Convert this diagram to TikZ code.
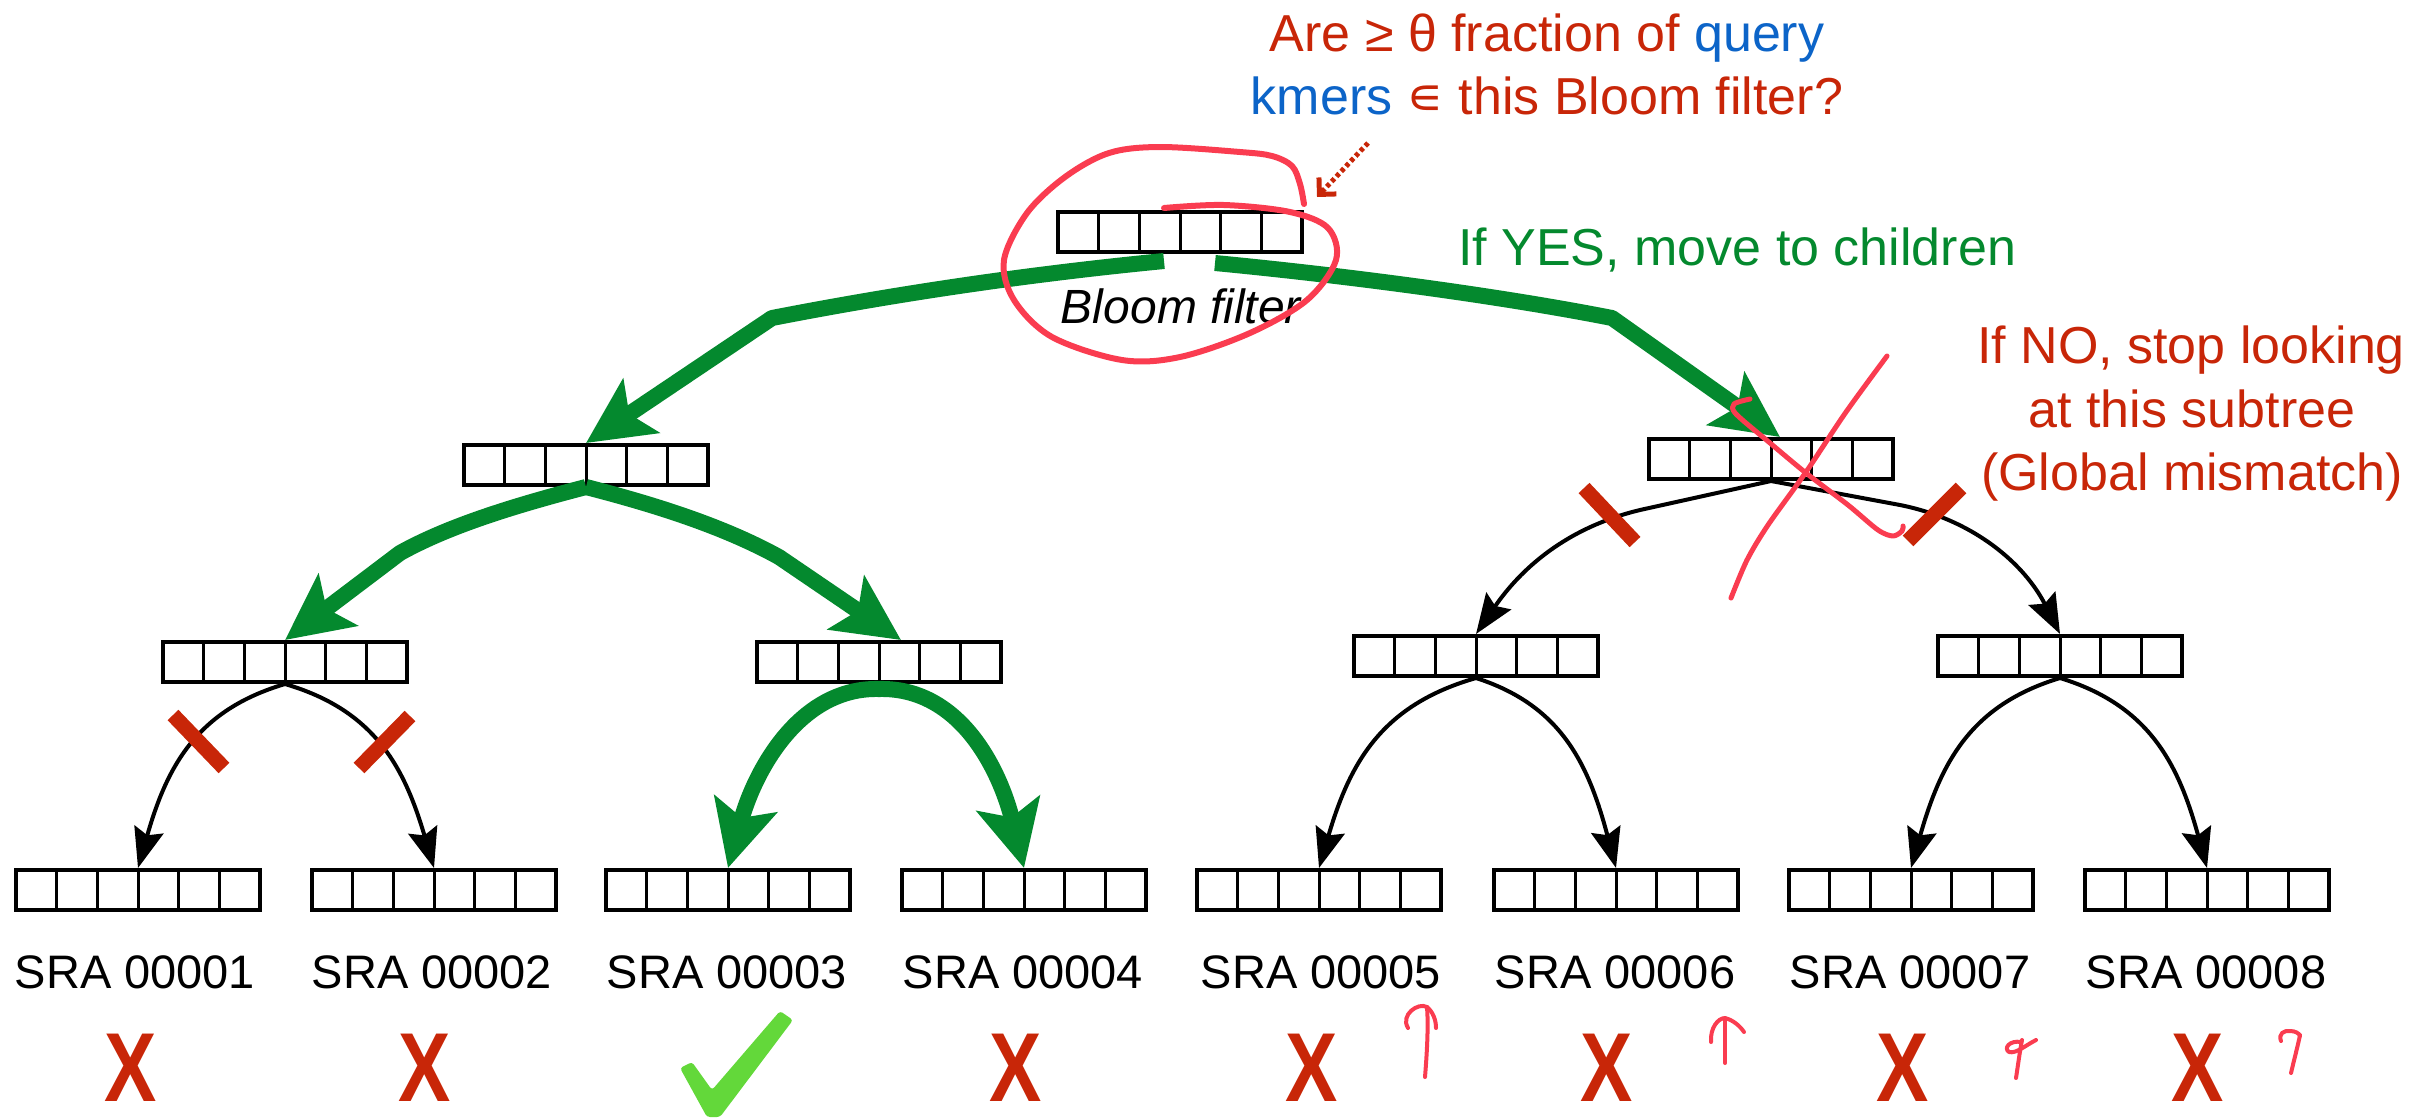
\documentclass[tikz,border=0pt]{standalone}
\usepackage{fontspec}
\usepackage{graphicx}
\setmainfont{Liberation Sans}
\newfontfamily\symfont{DejaVu Sans}
\usetikzlibrary{arrows.meta,calc}
\definecolor{bfred}{RGB}{200,38,8}
\definecolor{bfblue}{RGB}{12,100,200}
\definecolor{bfgreen}{RGB}{4,137,46}
\definecolor{penred}{RGB}{250,60,80}
\definecolor{checkgreen}{RGB}{99,216,58}
\tikzset{
  bfbox/.style={draw, line width=4pt, minimum width=244pt, minimum height=40pt, inner sep=0pt,
    path picture={\foreach \k in {1,...,5}{\draw[line width=3pt]
      ($(path picture bounding box.south west)!\k/6!(path picture bounding box.south east)$) --
      ($(path picture bounding box.north west)!\k/6!(path picture bounding box.north east)$);}}},
  blackedge/.style={line width=4pt, -{Stealth[length=40pt,width=30pt,inset=6pt]}},
  yesedge/.style={bfgreen, line width=16pt, line join=round, -{Stealth[length=66pt,width=64pt,inset=14pt]}},
  cutbar/.style={bfred, line width=15pt},
  pen/.style={penred, line width=6pt, line cap=round, line join=round},
  leaflabel/.style={font=\fontsize{47}{56}\selectfont, anchor=base, inner sep=0pt},
  nomark/.style={bfred, font=\fontsize{98}{98}\selectfont\bfseries, anchor=base, inner sep=0pt},
  note/.style={font=\fontsize{52}{62}\selectfont, anchor=base, inner sep=0pt}
}
\begin{document}
\begin{tikzpicture}[x=1pt,y=-1pt]
\useasboundingbox (0,0) rectangle (2419,1117);
% tree nodes
\node[bfbox] (root) at (1180,232) {};
\node[bfbox] (la) at (586,465) {};
\node[bfbox] (lb) at (1771,459) {};
\node[bfbox] (ma) at (285,662) {};
\node[bfbox] (mb) at (879,662) {};
\node[bfbox] (mc) at (1476,656) {};
\node[bfbox] (md) at (2060,656) {};
\foreach \i/\xx in {1/138,2/434,3/728,4/1024,5/1319,6/1616,7/1911,8/2207}{
  \node[bfbox] (f\i) at (\xx,890) {};
}
% labels
\foreach \i/\xx in {1/135,2/432,3/727,4/1023,5/1321,6/1615,7/1910,8/2206}{
  \node[leaflabel] (s\i) at (\xx,988) {SRA 0000\i};
}
\node[font=\fontsize{48}{56}\selectfont\itshape, anchor=base, inner sep=0pt] (bflabel) at (1181,323) {Bloom filter};
% black edges
\draw[blackedge] (lb.south) -- (1640,510) .. controls (1565,528) and (1520,570) .. (mc.north);
\draw[blackedge] (lb.south) -- (1900,505) .. controls (1975,520) and (2025,565) .. (md.north);
\draw[blackedge] (ma.south) .. controls (197,710) and (167,766) .. (f1.north);
\draw[blackedge] (ma.south) .. controls (374,710) and (404,766) .. (f2.north);
\draw[blackedge] (mc.south) .. controls (1382,705) and (1350,762) .. (f5.north);
\draw[blackedge] (mc.south) .. controls (1560,705) and (1588,762) .. (f6.north);
\draw[blackedge] (md.south) .. controls (1971,705) and (1941,762) .. (f7.north);
\draw[blackedge] (md.south) .. controls (2148,705) and (2178,762) .. (f8.north);
% green (YES) edges
\draw[yesedge] ([xshift=-16pt,yshift=-7pt]root.south) .. controls (1010,276) and (880,297) .. (772,318) -- (la.north);
\draw[yesedge] ([xshift=35pt,yshift=-9pt]root.south) .. controls (1350,276) and (1500,296) .. (1612,318) -- ([xshift=9pt]lb.north);
\draw[yesedge] (la.south) .. controls (505,508) and (445,528) .. (400,553) -- (ma.north);
\draw[yesedge] (la.south) .. controls (668,508) and (730,530) .. (779,557) -- ([xshift=22pt]mb.north);
\draw[yesedge] ([yshift=-5pt]mb.south) .. controls (800,687) and (755,770) .. (f3.north);
\draw[yesedge] ([yshift=-5pt]mb.south) .. controls (960,687) and (1000,770) .. (f4.north);
% red cut bars
\draw[cutbar] (1584,488) -- (1635,542);
\draw[cutbar] (1908,541) -- (1961,488);
\draw[cutbar] (173,715) -- (224,768);
\draw[cutbar] (410,716) -- (359,768);
% annotations
\node[note, bfred] (q1) at (1547,51) {Are ≥ θ fraction of \textcolor{bfblue}{query}};
\node[note, bfred] (q2) at (1547,114) {\textcolor{bfblue}{kmers} {\symfont ∊} this Bloom filter?};
\node[note, bfgreen, anchor=base west] (yes) at (1458,265) {If YES, move to children};
\node[note, bfred] (no1) at (2191,363) {If NO, stop looking};
\node[note, bfred] (no2) at (2192,427) {at this subtree};
\node[note, bfred] (no3) at (2192,490) {(Global mismatch)};
% dotted pointer
\coordinate (qs) at (1368,143);
\coordinate (qe) at (1317,197);
\draw[bfred, line width=5pt, dash pattern=on 4pt off 3pt, -{Straight Barb[length=12pt,width=24pt,line width=5pt]}] (qs) -- (qe);
% hand-drawn circle
\draw[pen] plot[smooth, tension=0.55] coordinates {(1304,204) (1300,184) (1292,166) (1272,156) (1240,152) (1160,147) (1109,153) (1065,177) (1027,213) (1004,260) (1014,300) (1052,337) (1122,360) (1180,357) (1250,333) (1307,300) (1336,260) (1328,228) (1290,212) (1224,205) (1164,208)};
% hand-drawn cross
\draw[pen, line width=5pt] plot[smooth] coordinates {(1887,356) (1846,412) (1806,472) (1768,525) (1747,560) (1731,598)};
\draw[pen, line width=5pt] plot[smooth] coordinates {(1750,399) (1734,404) (1736,414) (1770,443) (1806,473) (1848,505) (1878,530) (1893,536) (1902,531) (1903,526)};
% result marks
\foreach \i/\xx in {1/131,2/425,4/1016,5/1312,6/1607,7/1903,8/2198}{
  \node[nomark] (x\i) at (\xx,1101) {\scalebox{0.8}[1]{X}};
}
\fill[checkgreen, rounded corners=3pt] (680,1068) -- (692,1062) -- (712,1090) -- (780,1011) -- (793,1020) -- (720,1117) -- (707,1117) -- cycle;
% small pen arrows
\draw[pen, line width=4pt] (1425,1077) .. controls (1428,1040) and (1428,1020) .. (1427,1007);
\draw[pen, line width=4pt] (1408,1028) .. controls (1400,1015) and (1418,1002) .. (1427,1007) .. controls (1433,1012) and (1436,1020) .. (1436,1028);
\draw[pen, line width=4pt] (1725,1063) -- (1725,1020);
\draw[pen, line width=4pt] (1711,1042) .. controls (1710,1028) and (1718,1018) .. (1725,1018) .. controls (1733,1020) and (1740,1026) .. (1744,1032);
\draw[pen, line width=4pt] (2016,1078) .. controls (2018,1065) and (2020,1050) .. (2022,1040);
\draw[pen, line width=4pt] (2021,1042) .. controls (2010,1040) and (2003,1048) .. (2009,1052) .. controls (2016,1054) and (2026,1045) .. (2036,1040);
\draw[pen, line width=4pt] (2291,1073) .. controls (2294,1060) and (2298,1045) .. (2300,1035);
\draw[pen, line width=4pt] (2281,1041) .. controls (2278,1034) and (2284,1030) .. (2290,1031) .. controls (2295,1031) and (2299,1033) .. (2300,1036);
\end{tikzpicture}
\end{document}
